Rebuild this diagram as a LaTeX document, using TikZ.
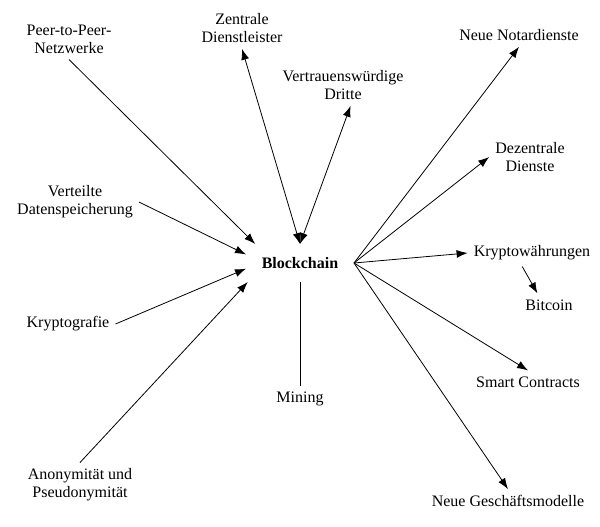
\documentclass[tikz,border=0pt]{standalone}
\usepackage{fontspec}
\setmainfont{Liberation Serif}
\usetikzlibrary{arrows.meta}

\begin{document}
\begin{tikzpicture}[x=1pt, y=-1pt,
                        >={Latex[length=11pt,width=8pt]},
                        topic/.style={align=center, inner sep=6pt, font=\fontsize{16}{18}\selectfont},
                        core/.style={font=\fontsize{16}{18}\selectfont\bfseries, minimum width=108pt, minimum height=38pt, inner sep=0pt, outer sep=0pt},
                        link/.style={line width=0.8pt}]
                        \useasboundingbox (0,0) rectangle (600,527);

                        \node [core]  (blockchain) at (300,263) {Blockchain};

                        \node [topic] (p2p)        at (69,39)    {Peer-to-Peer-\\Netzwerke};
                        \node [topic] (zentral)    at (242,28)   {Zentrale\\Dienstleister};
                        \node [topic] (vertrauen)  at (343,85)   {Vertrauenswürdige\\Dritte};
                        \node [topic] (verteilt)   at (75,202)   {Verteilte\\Datenspeicherung};
                        \node [topic] (kryptografie) at (68,324) {Kryptografie};
                        \node [topic] (anonym)     at (80,485)   {Anonymität und\\Pseudonymität};
                        \node [topic] (mining)     at (300,399)  {Mining};

                        \node [topic] (notar)      at (519,35)   {Neue Notardienste};
                        \node [topic] (dezentral)  at (530,157)  {Dezentrale\\Dienste};
                        \node [topic] (krypto)     at (532,253)  {Kryptowährungen};
                        \node [topic] (bitcoin)    at (549,305)  {Bitcoin};
                        \node [topic] (smart)      at (528,382)  {Smart Contracts};
                        \node [topic] (geschaeft)  at (508,501)  {Neue Geschäftsmodelle};

                        \draw[link, ->] (p2p.south) -- (blockchain.157);
                        \draw[link, ->] (verteilt.east) -- (blockchain.171);
                        \draw[link, ->] (kryptografie.east) -- (blockchain.186);
                        \draw[link, ->] (anonym.north) -- (blockchain.200);

                        \draw[link, <->] (zentral.south) -- (blockchain.north);
                        \draw[link, <->] (vertrauen.290) -- (blockchain.north);
                        \draw[link] (blockchain.south) -- (mining.north);

                        \draw[link, ->] (blockchain.east) -- (notar.south);
                        \draw[link, ->] (blockchain.east) -- (dezentral.west);
                        \draw[link, ->] (blockchain.east) -- (krypto.west);
                        \draw[link, ->] (blockchain.east) -- (smart.north);
                        \draw[link, ->] (blockchain.east) -- (geschaeft.north);
                        \draw[link, ->] (krypto.234) -- (bitcoin.135);
                      \end{tikzpicture}
\end{document}
